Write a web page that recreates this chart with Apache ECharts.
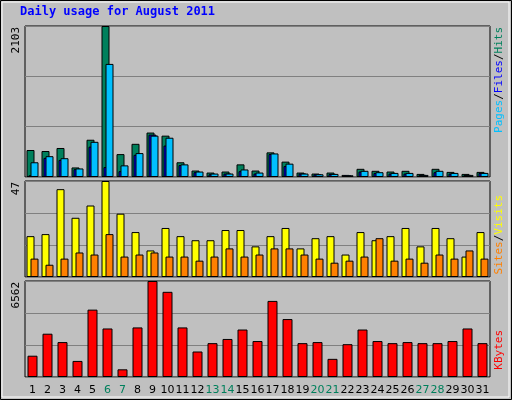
<!DOCTYPE html>
<html><head><meta charset="utf-8">
<script src="https://cdn.jsdelivr.net/npm/echarts@6/dist/echarts.min.js"></script>
<style>html,body{margin:0;padding:0;background:#c0c0c0}#c{width:512px;height:400px}</style>
</head><body><div id="c"></div>
<script>
const days = Array.from({length: 31}, (_, i) => String(i + 1));
const weekend = ['6','7','13','14','20','21','27','28'];
const hits = [376,362,404,133,519,2103,319,462,619,576,205,90,62,76,176,90,343,214,62,48,62,29,114,86,76,86,43,114,71,43,71];
const files = [205,290,262,119,490,1575,162,333,576,547,176,76,48,48,105,62,328,186,48,38,43,24,86,67,57,57,29,86,57,29,57];
const pages = [24,266,238,109,423,138,81,309,590,438,167,67,38,48,81,48,320,152,48,38,43,24,76,57,48,48,29,67,48,29,57];
const visits = [20,21,43,29,35,47,31,22,13,24,20,18,18,23,23,15,20,24,14,19,20,11,22,18,20,24,15,24,19,10,22];
const sites = [9,6,9,12,11,21,10,11,12,10,10,8,10,14,10,11,14,14,11,9,7,8,10,19,8,9,7,11,9,13,9];
const kbytes = [1455,2959,2386,1098,4605,3317,525,3388,6562,5822,3388,1742,2314,2600,3245,2458,5201,3961,2314,2386,1241,2243,3245,2458,2314,2386,2314,2314,2458,3317,2314];

const chart = echarts.init(document.getElementById('c'));
const grids = [
  {left: 25, right: 22, top: 26, height: 151},
  {left: 25, right: 22, top: 181, height: 96},
  {left: 25, right: 22, top: 281, height: 96}
].map(g => Object.assign(g, {show: true, backgroundColor: '#c0c0c0', borderColor: '#000', borderWidth: 1}));
const maxes = [2103, 47, 6562];
const bar = (name, data, idx, color, width, gap) => ({
  name, type: 'bar', data, xAxisIndex: idx, yAxisIndex: idx, barWidth: width, barGap: gap,
  itemStyle: {color, borderColor: '#000', borderWidth: 1}, animation: false
});
chart.setOption({
  animation: false,
  grid: grids,
  xAxis: grids.map((g, i) => ({
    type: 'category', gridIndex: i, data: days,
    axisLine: {show: false}, axisTick: {show: false},
    axisLabel: i === 2 ? {
      show: true, margin: 8, fontSize: 11, fontFamily: 'DejaVu Sans', interval: 0,
      color: v => weekend.includes(v) ? '#00805c' : '#000'
    } : {show: false}
  })),
  yAxis: maxes.map((m, i) => ({
    type: 'value', gridIndex: i, min: 0, max: m, interval: m / 3,
    axisLabel: {show: false}, axisLine: {show: false}, axisTick: {show: false},
    splitLine: {lineStyle: {color: '#808080', width: 1}}
  })),
  series: [
    bar('Hits', hits, 0, '#00805c', 8, '-75%'),
    bar('Pages', pages, 0, '#0000ff', 8, '-75%'),
    bar('Files', files, 0, '#00c0ff', 8, '-75%'),
    bar('Visits', visits, 1, '#ffff00', 8, '-50%'),
    bar('Sites', sites, 1, '#ff8000', 8, '-50%'),
    bar('KBytes', kbytes, 2, '#ff0000', 10, '0%')
  ],
  graphic: [
    {type: 'rect', shape: {x: 0.5, y: 0.5, width: 511, height: 399}, style: {fill: 'none', stroke: '#000'}, silent: true},
    {type: 'rect', shape: {x: 2, y: 2, width: 507, height: 395}, style: {fill: 'none', stroke: '#fff'}, silent: true},
    {type: 'text', left: 20, top: 6, style: {text: 'Daily usage for August 2011', font: 'bold 12px "DejaVu Sans Mono"', fill: '#0000ff'}},
    {type: 'text', x: 16, y: 27, rotation: Math.PI / 2, style: {text: String(maxes[0]), font: '11px "DejaVu Sans Mono"', fill: '#000', align: 'right', verticalAlign: 'middle'}},
    {type: 'text', x: 16, y: 182, rotation: Math.PI / 2, style: {text: String(maxes[1]), font: '11px "DejaVu Sans Mono"', fill: '#000', align: 'right', verticalAlign: 'middle'}},
    {type: 'text', x: 16, y: 282, rotation: Math.PI / 2, style: {text: String(maxes[2]), font: '11px "DejaVu Sans Mono"', fill: '#000', align: 'right', verticalAlign: 'middle'}},
    {type: 'text', x: 499, y: 27, rotation: Math.PI / 2, style: {
      text: '{p|Pages}{s|/}{f|Files}{s|/}{h|Hits}', align: 'right', verticalAlign: 'middle',
      font: '11px "DejaVu Sans Mono"',
      rich: {p: {fill: '#00c0ff'}, f: {fill: '#0000ff'}, h: {fill: '#00805c'}, s: {fill: '#000'}}
    }},
    {type: 'text', x: 499, y: 195, rotation: Math.PI / 2, style: {
      text: '{a|Sites}{s|/}{b|Visits}', align: 'right', verticalAlign: 'middle',
      font: '11px "DejaVu Sans Mono"',
      rich: {a: {fill: '#ff8000'}, b: {fill: '#ffff00'}, s: {fill: '#000'}}
    }},
    {type: 'text', x: 499, y: 330, rotation: Math.PI / 2, style: {
      text: 'KBytes', align: 'right', verticalAlign: 'middle', font: '11px "DejaVu Sans Mono"', fill: '#ff0000'
    }}
  ]
});
</script></body></html>
